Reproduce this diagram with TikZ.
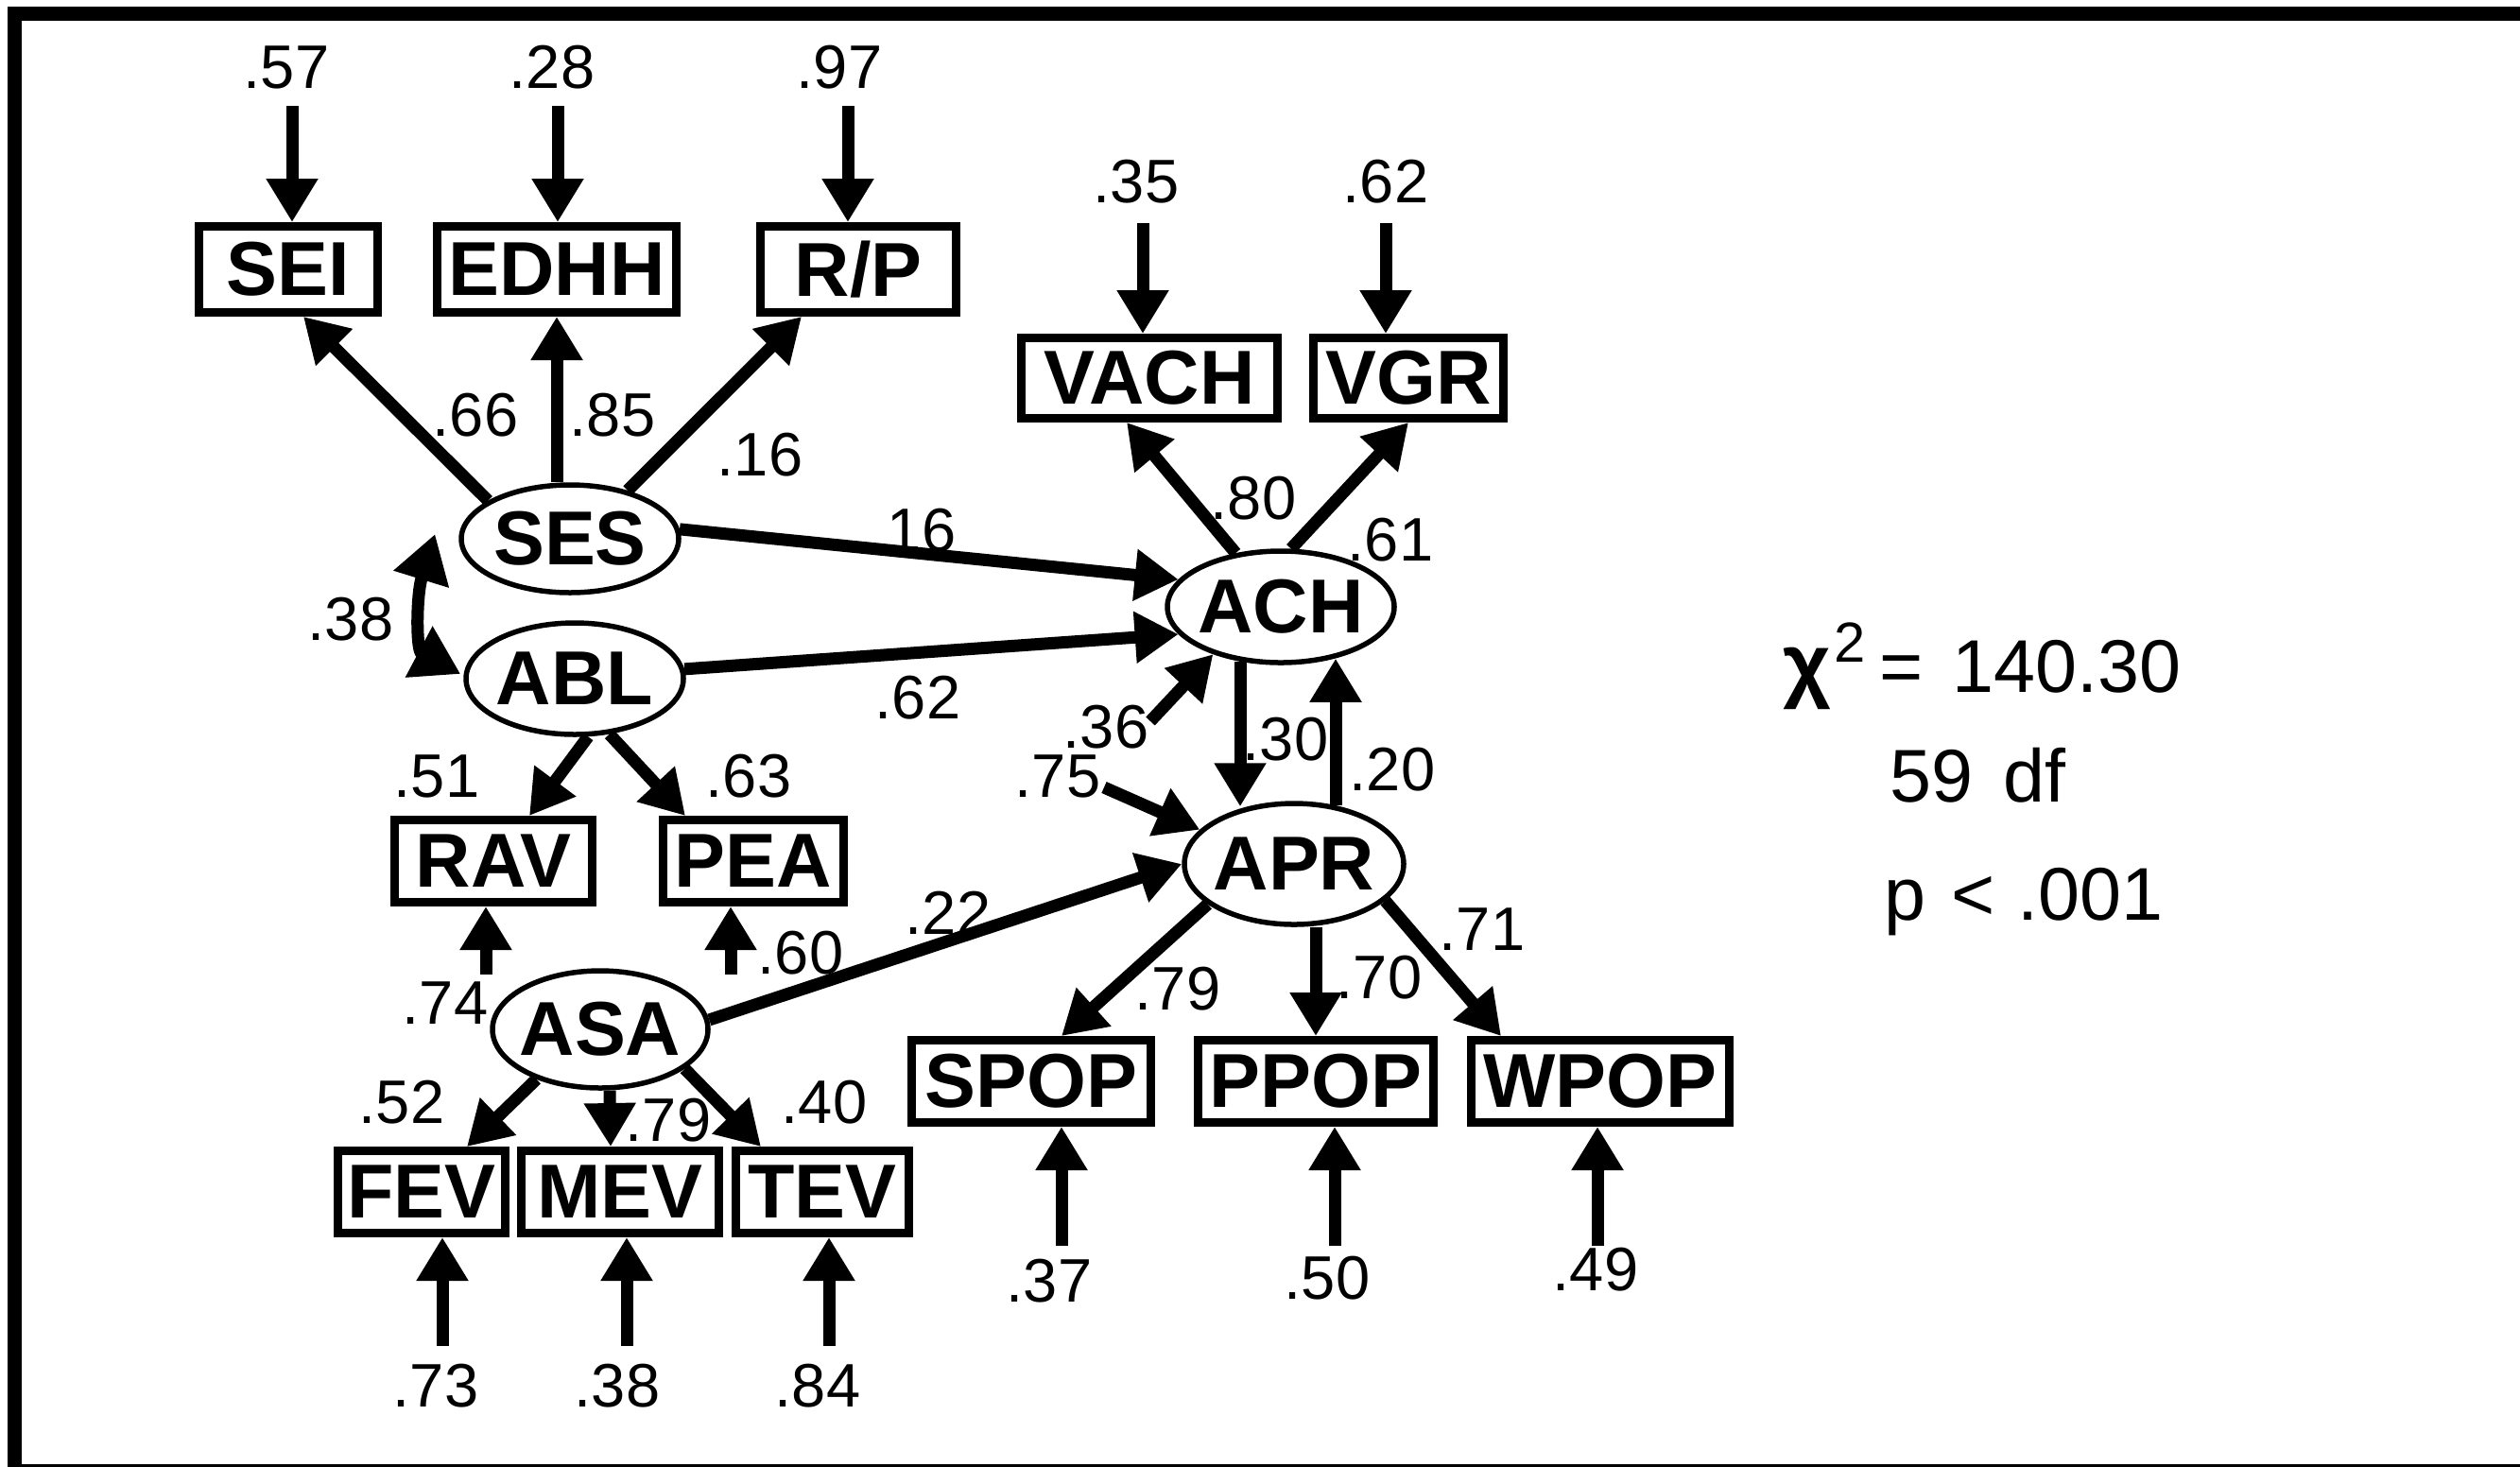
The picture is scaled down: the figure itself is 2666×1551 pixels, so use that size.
\documentclass[tikz,border=0pt]{standalone}
\usepackage{fontspec}
\setmainfont{Liberation Sans}
\usetikzlibrary{arrows.meta,shapes.geometric,calc}
\tikzset{
  obs/.style={draw, rectangle, line width=0.9mm, inner sep=0pt, minimum height=8.7mm,
    font=\fontsize{23}{24}\selectfont\bfseries},
  lat/.style={draw, ellipse, line width=0.55mm, inner sep=0pt,
    font=\fontsize{23}{24}\selectfont\bfseries},
  arr/.style={line width=1.3mm, -{Triangle[width=5.2mm,length=4.6mm]}},
  dblarr/.style={line width=1.3mm, {Triangle[width=5.8mm,length=5mm]}-{Triangle[width=5.8mm,length=5mm]}},
  lbl/.style={inner sep=0pt, font=\fontsize{18.5}{19}\selectfont},
  stat/.style={inner sep=0pt, font=\fontsize{22.5}{23}\selectfont},
}
\begin{document}
\begin{tikzpicture}[x=0.1mm,y=-0.1mm]
\useasboundingbox (0,0) rectangle (2666,1551);
\fill[white] (0,0) rectangle (2666,1551);
\draw[line width=1.5mm] (2720,14) -- (15,14) -- (15,1556) -- (2720,1556);

% observed variables
\node[obs, minimum width=18.9mm, minimum height=9.1mm] (SEI)  at (305,285) {SEI};
\node[obs, minimum width=25.3mm, minimum height=9.1mm] (EDHH) at (589,285) {EDHH};
\node[obs, minimum width=20.7mm, minimum height=9.1mm] (RP)   at (908,285) {R/P};
\node[obs, minimum width=27.1mm, minimum height=8.5mm] (VACH) at (1216,400) {VACH};
\node[obs, minimum width=20.1mm, minimum height=8.5mm] (VGR)  at (1490,400) {VGR};
\node[obs, minimum width=20.9mm] (RAV)  at (522,911) {RAV};
\node[obs, minimum width=19.1mm] (PEA)  at (797,911) {PEA};
\node[obs, minimum width=17.7mm] (FEV)  at (446,1261) {FEV};
\node[obs, minimum width=20.9mm] (MEV)  at (656,1261) {MEV};
\node[obs, minimum width=18.3mm] (TEV)  at (870,1261) {TEV};
\node[obs, minimum width=25.3mm] (SPOP) at (1091,1144) {SPOP};
\node[obs, minimum width=24.9mm] (PPOP) at (1392,1144) {PPOP};
\node[obs, minimum width=27.3mm] (WPOP) at (1693,1144) {WPOP};

% latent variables
\node[lat, minimum width=23mm, minimum height=11.4mm] (SES) at (603,570) {\makebox[0pt]{SES}};
\node[lat, minimum width=23mm, minimum height=11.8mm] (ABL) at (608,718) {\makebox[0pt]{ABL}};
\node[lat, minimum width=24mm, minimum height=11.8mm] (ACH) at (1355,642) {\makebox[0pt]{ACH}};
\node[lat, minimum width=23.2mm, minimum height=12.8mm] (APR) at (1369,914) {\makebox[0pt]{APR}};
\node[lat, minimum width=22.8mm, minimum height=12.4mm] (ASA) at (635,1089) {\makebox[0pt]{ASA}};

% residual sources
\coordinate (e1) at (309,112);
\coordinate (e2) at (590,112);
\coordinate (e3) at (897,112);
\coordinate (e4) at (1209,236);
\coordinate (e5) at (1466,236);
\coordinate (e6) at (514,1031);
\coordinate (e7) at (773,1031);
\coordinate (e8) at (468,1424);
\coordinate (e9) at (663,1424);
\coordinate (e10) at (877,1424);
\coordinate (e11) at (1123,1318);
\coordinate (e12) at (1412,1318);
\coordinate (e13) at (1690,1318);
\coordinate (e14) at (1168,833);
\coordinate (e15) at (1217,763);

\draw[arr] (e1) -- (e1 |- SEI.north);
\draw[arr] (e2) -- (e2 |- EDHH.north);
\draw[arr] (e3) -- (e3 |- RP.north);
\draw[arr] (e4) -- (e4 |- VACH.north);
\draw[arr] (e5) -- (e5 |- VGR.north);
\draw[arr] (e6) -- (e6 |- RAV.south);
\draw[arr] (e7) -- (e7 |- PEA.south);
\draw[arr] (e8) -- (e8 |- FEV.south);
\draw[arr] (e9) -- (e9 |- MEV.south);
\draw[arr] (e10) -- (e10 |- TEV.south);
\draw[arr] (e11) -- (e11 |- SPOP.south);
\draw[arr] (e12) -- (e12 |- PPOP.south);
\draw[arr] (e13) -- (e13 |- WPOP.south);
\draw[arr] (e14) -- (APR.160);
\draw[arr] (e15) -- (ACH.215);

% loadings and paths
\draw[arr] (SES.155) -- ($(SEI.south)+(16,0)$);
\draw[arr] (EDHH.south |- SES.north) -- (EDHH.south);
\draw[arr] (SES.40) -- ($(RP.south)+(-60,0)$);
\draw[arr] (ACH.130) -- ($(VACH.south)+(-24,0)$);
\draw[arr] (ACH.80) -- (VGR.south);
\draw[arr] (SES.5) -- (ACH.165);
\draw[arr] (ABL.5) -- (ACH.195);
\draw[arr] (ABL.283) -- ($(RAV.north)+(38,0)$);
\draw[arr] (ABL.302) -- ($(PEA.north)+(-72,0)$);
\draw[arr] (ASA.218) -- ($(FEV.north)+(48,0)$);
\draw[arr] ($(ASA.south)+(10,0)$) -- ($(MEV.north)+(-10,0)$);
\draw[arr] (ASA.335) -- ($(TEV.north)+(-65,0)$);
\draw[arr] (ASA.5) -- (APR.180);
\draw[arr] (APR.205) -- ($(SPOP.north)+(32,0)$);
\draw[arr] (PPOP.north |- APR.south) -- (PPOP.north);
\draw[arr] (APR.338) -- ($(WPOP.north)+(-105,0)$);
\draw[arr] ($(ACH.south)+(-43,-4)$) -- ($(APR.north)+(-57,6)$);
\draw[arr] ($(APR.north)+(44,5)$) -- ($(ACH.south)+(58,-7)$);
\draw[dblarr] ($(SES.west)+(-25,-5)$) .. controls ($(SES.west)+(-45,60)$) and ($(ABL.west)+(-50,-30)$) .. ($(ABL.west)+(-3,-5)$);

% coefficient labels
\node[lbl] (l57) at (303,71) {.57};
\node[lbl] (l28) at (584,71) {.28};
\node[lbl] (l97) at (888,71) {.97};
\node[lbl] (l35) at (1202,192) {.35};
\node[lbl] (l62a) at (1466,192) {.62};
\node[lbl] (l66) at (503,439) {.66};
\node[lbl] (l85) at (648,439) {.85};
\node[lbl] (l16a) at (804,481) {.16};
\node[lbl] (l16b) at (966,561) {.16};
\node[lbl] (l62b) at (971,738) {.62};
\node[lbl] (l38a) at (371,655) {.38};
\node[lbl] (l80) at (1326,527) {.80};
\node[lbl] (l61) at (1471,571) {.61};
\node[lbl] (l36) at (1170,769) {.36};
\node[lbl] (l75) at (1119,821) {.75};
\node[lbl] (l30) at (1360,782) {.30};
\node[lbl] (l20) at (1473,814) {.20};
\node[lbl] (l51) at (462,821) {.51};
\node[lbl] (l63) at (792,821) {.63};
\node[lbl] (l22) at (1003,966) {.22};
\node[lbl] (l60) at (847,1008) {.60};
\node[lbl] (l74) at (471,1061) {.74};
\node[lbl] (l79a) at (1246,1046) {.79};
\node[lbl] (l70) at (1459,1034) {.70};
\node[lbl] (l71) at (1568,983) {.71};
\node[lbl] (l52) at (425,1166) {.52};
\node[lbl] (l79b) at (707,1185) {.79};
\node[lbl] (l40) at (872,1166) {.40};
\node[lbl] (l73) at (461,1466) {.73};
\node[lbl] (l38b) at (653,1466) {.38};
\node[lbl] (l84) at (865,1466) {.84};
\node[lbl] (l37) at (1110,1355) {.37};
\node[lbl] (l50) at (1404,1352) {.50};
\node[lbl] (l49) at (1688,1343) {.49};

% fit statistics
\node[stat, anchor=base west] (chi) at (1886,732)
  {{\fontsize{25}{25}\selectfont\bfseries χ}\hspace{1pt}\raisebox{9pt}{\fontsize{17}{17}\selectfont 2}\hspace{4pt}=\hspace{9pt}140.30};
\node[stat, anchor=base west] (df) at (1999,848) {59\hspace{9pt}df};
\node[stat, anchor=base west] (pv) at (1993,973) {p\hspace{7.5pt}<\hspace{7pt}.001};
\end{tikzpicture}
\end{document}
